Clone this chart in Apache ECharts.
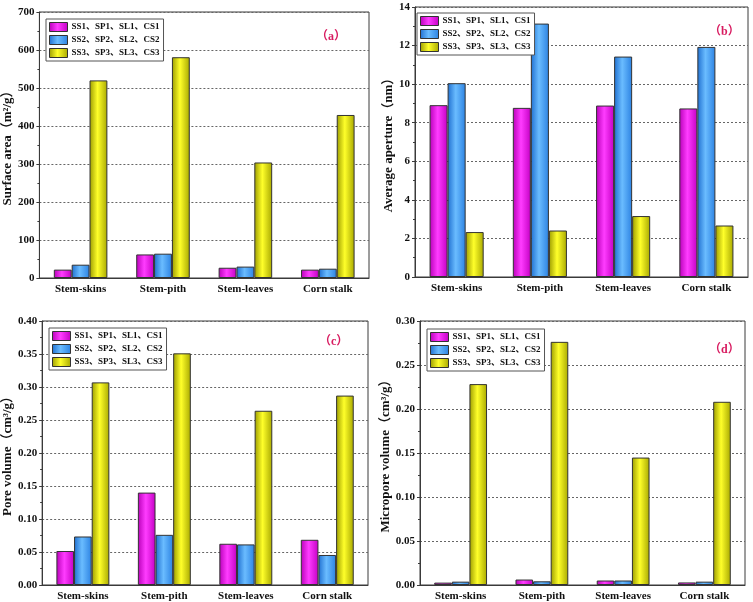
<!DOCTYPE html>
<html>
<head>
<meta charset="utf-8">
<script src="https://cdn.jsdelivr.net/npm/echarts@6/dist/echarts.min.js"></script>
<style>
html,body{margin:0;padding:0;background:#fff;}
#main{width:753px;height:602px;}
</style>
</head>
<body>
<div id="main"></div>
<script>
// ---- data ----
const categories = ['Stem-skins', 'Stem-pith', 'Stem-leaves', 'Corn stalk'];
const seriesNames = ['SS1、SP1、SL1、CS1', 'SS2、SP2、SL2、CS2', 'SS3、SP3、SL3、CS3'];

const surfaceArea1 = [22, 62, 27, 22];
const surfaceArea2 = [35, 64, 30, 24.5];
const surfaceArea3 = [520, 581, 304, 429];

const aperture1 = [8.91, 8.77, 8.89, 8.74];
const aperture2 = [10.05, 13.14, 11.43, 11.93];
const aperture3 = [2.33, 2.41, 3.16, 2.67];

const poreVolume1 = [0.0515, 0.140, 0.0625, 0.0685];
const poreVolume2 = [0.0735, 0.076, 0.0615, 0.0455];
const poreVolume3 = [0.307, 0.351, 0.264, 0.287];

const microVolume1 = [0.0027, 0.0062, 0.0051, 0.0029];
const microVolume2 = [0.0038, 0.0042, 0.0051, 0.0038];
const microVolume3 = [0.2283, 0.2763, 0.1448, 0.2082];

const yTitles = ['Surface area（m²/g）', 'Average aperture（nm）', 'Pore volume（cm³/g）', 'Micropore volume（cm³/g）'];
const panelLabels = ['（a）', '（b）', '（c）', '（d）'];
const yRanges = [[0, 700, 100, 0], [0, 14, 2, 0], [0, 0.40, 0.05, 2], [0, 0.30, 0.05, 2]];

// ---- styling ----
const FONT = '"Liberation Serif", "Times New Roman", "Noto Sans CJK SC", serif';
const AXIS_COLOR = '#3a3a3a';
function grad(c0, c1, c2) {
  return {type: 'linear', x: 0, y: 0, x2: 1, y2: 0,
    colorStops: [{offset: 0, color: c0}, {offset: 0.45, color: c1}, {offset: 1, color: c2}]};
}
const barColors = [
  grad('#B800B8', '#FF3CFF', '#C400C4'),
  grad('#1F6FD0', '#6ABCFF', '#2C82E2'),
  grad('#9C9C00', '#FFFF2A', '#A8A800')
];

const grids = [
  {left: 36, top: 12, width: 333, height: 266},
  {left: 415, top: 7, width: 333, height: 270},
  {left: 39, top: 321, width: 329, height: 265},
  {left: 420, top: 321, width: 325, height: 265}
];
const nameGaps = [21, 17, 23, 22];
const legendPos = [
  {left: 46, top: 19},
  {left: 417, top: 13},
  {left: 49, top: 328},
  {left: 427, top: 329}
];
const labelPos = [[330, 38], [723, 33], [333, 343], [723, 351]];
const panelData = [
  [surfaceArea1, surfaceArea2, surfaceArea3],
  [aperture1, aperture2, aperture3],
  [poreVolume1, poreVolume2, poreVolume3],
  [microVolume1, microVolume2, microVolume3]
];

const option = {
  animation: false,
  backgroundColor: '#fff',
  textStyle: {fontFamily: FONT},
  grid: grids.map(g => Object.assign({show: true, borderColor: AXIS_COLOR, borderWidth: 1, backgroundColor: '#fff'}, g)),
  xAxis: grids.map((g, i) => ({
    type: 'category', gridIndex: i, data: categories,
    axisLine: {lineStyle: {color: AXIS_COLOR, width: 1}},
    axisTick: {show: false},
    axisLabel: {color: '#111', fontFamily: FONT, fontWeight: 'bold', fontSize: 11, margin: 6}
  })),
  yAxis: grids.map((g, i) => ({
    type: 'value', gridIndex: i,
    min: yRanges[i][0], max: yRanges[i][1], interval: yRanges[i][2],
    name: yTitles[i], nameLocation: 'middle', nameRotate: 90, nameGap: nameGaps[i],
    nameTextStyle: {color: '#111', fontFamily: FONT, fontWeight: 'bold', fontSize: 13},
    axisLine: {show: true, lineStyle: {color: AXIS_COLOR, width: 1}},
    axisTick: {show: true, inside: false, length: 3, lineStyle: {color: AXIS_COLOR}},
    minorTick: {show: true, splitNumber: 2, length: 2, lineStyle: {color: AXIS_COLOR}},
    axisLabel: {color: '#111', fontFamily: FONT, fontWeight: 'bold', fontSize: 11, margin: 5,
      formatter: v => v.toFixed(yRanges[i][3])},
    splitLine: {show: true, lineStyle: {color: '#666', type: [2, 2], width: 1}}
  })),
  legend: legendPos.map((p, i) => ({
    left: p.left, top: p.top, orient: 'vertical',
    data: seriesNames.map(n => ({name: n, icon: 'rect'})),
    itemWidth: 18, itemHeight: 9, itemGap: 3,
    padding: [3, 4, 3, 3],
    borderColor: '#555', borderWidth: 1, backgroundColor: '#fff',
    itemStyle: {borderColor: '#333', borderWidth: 1},
    textStyle: {color: '#111', fontFamily: FONT, fontWeight: 'bold', fontSize: 9, padding: [0, 0, 0, -1]},
    selectedMode: false
  })),
  series: [],
  graphic: labelPos.map((p, i) => ({
    type: 'text', left: p[0] - 14, top: p[1] - 7,
    style: {text: panelLabels[i], fill: '#D81B60', font: 'bold 12px ' + FONT}
  }))
};

panelData.forEach((sets, i) => {
  sets.forEach((vals, k) => {
    option.series.push({
      type: 'bar', name: seriesNames[k], xAxisIndex: i, yAxisIndex: i,
      data: vals, barGap: '0%', barCategoryGap: '35%',
      itemStyle: {color: barColors[k], borderColor: '#333', borderWidth: 1}
    });
  });
});

const chart = echarts.init(document.getElementById('main'), null, {renderer: 'canvas'});
chart.setOption(option);
</script>
</body>
</html>
